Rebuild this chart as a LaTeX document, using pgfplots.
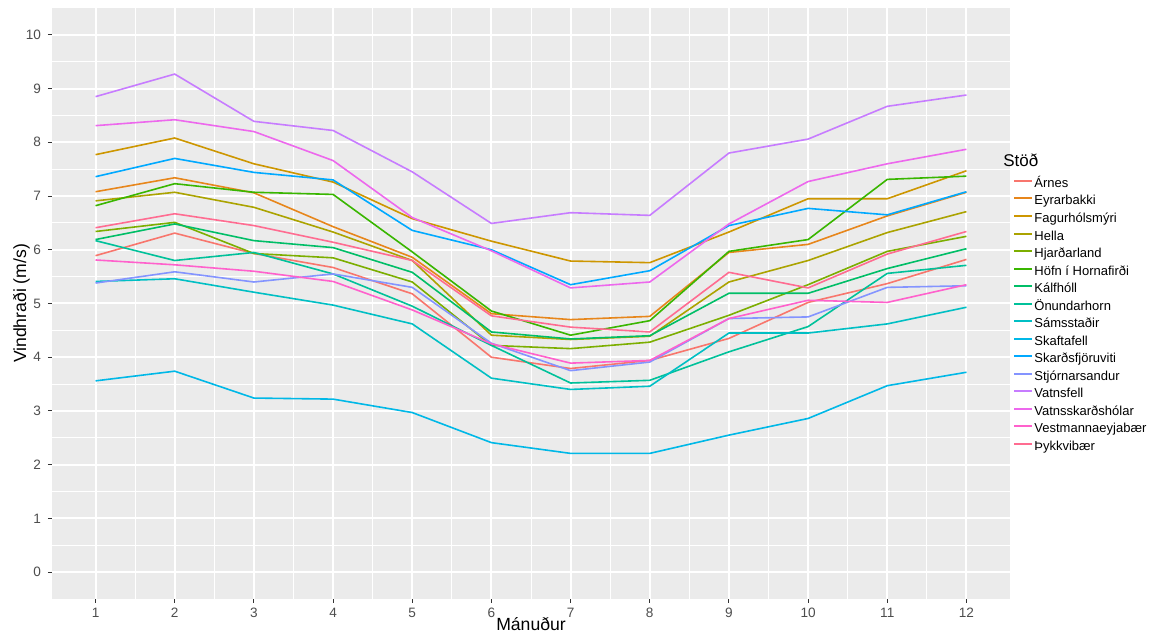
\documentclass[border=0pt]{standalone}
\usepackage{fontspec}
\setmainfont{Liberation Sans}
\usepackage{pgfplots}
\pgfplotsset{compat=1.18}
\definecolor{c01}{HTML}{F8766D}
\definecolor{c02}{HTML}{E7861B}
\definecolor{c03}{HTML}{CD9600}
\definecolor{c04}{HTML}{ABA300}
\definecolor{c05}{HTML}{7CAE00}
\definecolor{c06}{HTML}{39B600}
\definecolor{c07}{HTML}{00BE67}
\definecolor{c08}{HTML}{00C19A}
\definecolor{c09}{HTML}{00BFC4}
\definecolor{c10}{HTML}{00B8E7}
\definecolor{c11}{HTML}{00A9FF}
\definecolor{c12}{HTML}{8494FF}
\definecolor{c13}{HTML}{C77CFF}
\definecolor{c14}{HTML}{ED68ED}
\definecolor{c15}{HTML}{FF61CC}
\definecolor{c16}{HTML}{FF6C91}
\definecolor{panelbg}{HTML}{EBEBEB}
\definecolor{txtgray}{HTML}{4D4D4D}
\definecolor{tickgray}{HTML}{333333}
\begin{document}
\begin{tikzpicture}
\path[use as bounding box] (0,0) rectangle (584pt,317.5pt);
\begin{axis}[
  at={(26pt,18pt)}, anchor=south west,
  scale only axis, width=479pt, height=295.5pt,
  xmin=0.45, xmax=12.55, ymin=-0.5, ymax=10.5,
  xtick={1,...,12}, ytick={0,...,10},
  minor x tick num=1, minor y tick num=1,
  minor tick length=0pt,
  axis x line*=bottom, axis y line*=left,
  axis line style={draw=none},
  tick align=outside, major tick length=2pt,
  every tick/.style={tickgray, line width=0.5pt},
  axis background/.style={fill=panelbg},
  grid=both,
  major grid style={white, line width=1pt},
  minor grid style={white, line width=0.5pt},
  /pgf/number format/assume math mode=true,
  tick label style={font=\fontsize{6.8}{8}\selectfont, text=txtgray},
  xticklabel style={yshift=1.2pt},
  xlabel={Mánuður}, ylabel={Vindhraði (m/s)},
  label style={font=\fontsize{8.8}{10}\selectfont, text=black},
  xlabel style={at={(axis description cs:0.5,-0.042)}, anchor=center},
  ylabel style={at={(axis description cs:-0.032,0.5)}, anchor=center, rotate=0},
  legend style={at={(1,0.7225)}, anchor=north west, xshift=-1.5pt, draw=none, fill=none,
    font=\fontsize{6.5}{7.5}\selectfont, row sep=1.27pt,
    nodes={inner sep=0.5pt, text height=5pt, text depth=1.5pt}},
  legend cell align=left,
  legend image code/.code={\draw[#1, line width=1pt] (0pt,1.5pt) -- (9pt,1.5pt);},
  every axis plot/.append style={line width=0.8pt, mark=none},
  clip=true,
]
\addplot[c01] coordinates {(1,5.89)(2,6.31)(3,5.93)(4,5.67)(5,5.18)(6,4.00)(7,3.79)(8,3.94)(9,4.35)(10,5.02)(11,5.37)(12,5.82)};
\addlegendentry{Árnes}
\addplot[c02] coordinates {(1,7.08)(2,7.34)(3,7.06)(4,6.43)(5,5.86)(6,4.81)(7,4.70)(8,4.76)(9,5.95)(10,6.10)(11,6.63)(12,7.07)};
\addlegendentry{Eyrarbakki}
\addplot[c03] coordinates {(1,7.77)(2,8.08)(3,7.60)(4,7.26)(5,6.58)(6,6.16)(7,5.79)(8,5.76)(9,6.33)(10,6.95)(11,6.95)(12,7.47)};
\addlegendentry{Fagurhólsmýri}
\addplot[c04] coordinates {(1,6.91)(2,7.07)(3,6.79)(4,6.33)(5,5.80)(6,4.41)(7,4.33)(8,4.39)(9,5.40)(10,5.80)(11,6.32)(12,6.71)};
\addlegendentry{Hella}
\addplot[c05] coordinates {(1,6.34)(2,6.51)(3,5.93)(4,5.85)(5,5.40)(6,4.22)(7,4.16)(8,4.28)(9,4.78)(10,5.35)(11,5.97)(12,6.25)};
\addlegendentry{Hjarðarland}
\addplot[c06] coordinates {(1,6.82)(2,7.23)(3,7.07)(4,7.03)(5,5.96)(6,4.86)(7,4.41)(8,4.68)(9,5.97)(10,6.19)(11,7.31)(12,7.37)};
\addlegendentry{Höfn í Hornafirði}
\addplot[c07] coordinates {(1,6.19)(2,6.48)(3,6.17)(4,6.04)(5,5.58)(6,4.47)(7,4.34)(8,4.40)(9,5.19)(10,5.19)(11,5.65)(12,6.02)};
\addlegendentry{Kálfhóll}
\addplot[c08] coordinates {(1,6.17)(2,5.80)(3,5.95)(4,5.55)(5,4.95)(6,4.22)(7,3.52)(8,3.57)(9,4.10)(10,4.57)(11,5.56)(12,5.71)};
\addlegendentry{Önundarhorn}
\addplot[c09] coordinates {(1,5.41)(2,5.46)(3,5.21)(4,4.97)(5,4.62)(6,3.61)(7,3.40)(8,3.46)(9,4.45)(10,4.45)(11,4.62)(12,4.93)};
\addlegendentry{Sámsstaðir}
\addplot[c10] coordinates {(1,3.56)(2,3.74)(3,3.24)(4,3.22)(5,2.97)(6,2.41)(7,2.21)(8,2.21)(9,2.55)(10,2.86)(11,3.47)(12,3.72)};
\addlegendentry{Skaftafell}
\addplot[c11] coordinates {(1,7.36)(2,7.70)(3,7.44)(4,7.30)(5,6.36)(6,6.00)(7,5.35)(8,5.61)(9,6.45)(10,6.77)(11,6.65)(12,7.08)};
\addlegendentry{Skarðsfjöruviti}
\addplot[c12] coordinates {(1,5.38)(2,5.59)(3,5.40)(4,5.55)(5,5.30)(6,4.26)(7,3.75)(8,3.91)(9,4.72)(10,4.75)(11,5.30)(12,5.33)};
\addlegendentry{Stjórnarsandur}
\addplot[c13] coordinates {(1,8.85)(2,9.27)(3,8.39)(4,8.22)(5,7.45)(6,6.49)(7,6.69)(8,6.64)(9,7.80)(10,8.06)(11,8.67)(12,8.88)};
\addlegendentry{Vatnsfell}
\addplot[c14] coordinates {(1,8.31)(2,8.42)(3,8.20)(4,7.66)(5,6.60)(6,5.98)(7,5.29)(8,5.40)(9,6.48)(10,7.27)(11,7.60)(12,7.87)};
\addlegendentry{Vatnsskarðshólar}
\addplot[c15] coordinates {(1,5.81)(2,5.72)(3,5.60)(4,5.41)(5,4.88)(6,4.25)(7,3.89)(8,3.94)(9,4.72)(10,5.06)(11,5.02)(12,5.35)};
\addlegendentry{Vestmannaeyjabær}
\addplot[c16] coordinates {(1,6.41)(2,6.67)(3,6.45)(4,6.14)(5,5.80)(6,4.77)(7,4.56)(8,4.47)(9,5.58)(10,5.29)(11,5.92)(12,6.34)};
\addlegendentry{Þykkvibær}
\end{axis}
\node[anchor=west, font=\fontsize{8.5}{10}\selectfont, inner sep=0pt] at (501.5pt,237.5pt) {Stöð};
\end{tikzpicture}
\end{document}
